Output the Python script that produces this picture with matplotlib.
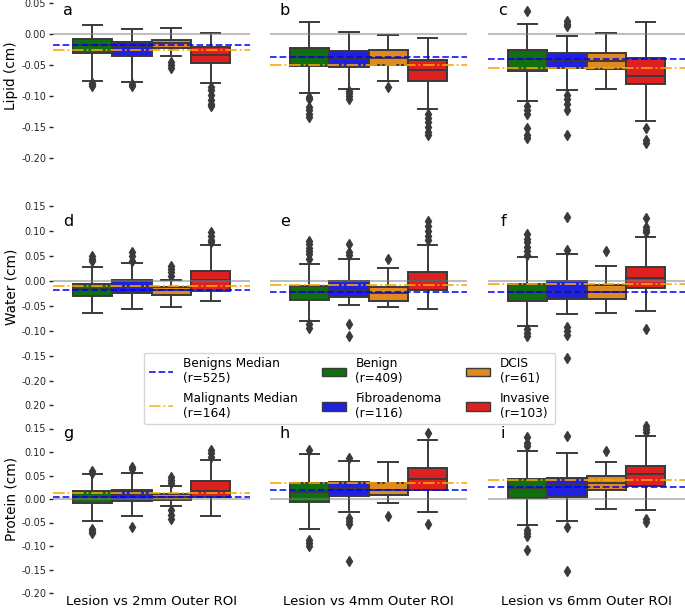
import matplotlib
matplotlib.use("Agg")
import matplotlib.pyplot as plt
import matplotlib.colors as mcolors
import matplotlib.ticker as mticker
from matplotlib.patches import Patch
from matplotlib.lines import Line2D
import colorsys

# ---------------- data ----------------
groups = ["Benign", "Fibroadenoma", "DCIS", "Invasive"]
group_counts = [409, 116, 61, 103]
benign_count = 525
malignant_count = 164
roi_labels = ["Lesion vs 2mm Outer ROI", "Lesion vs 4mm Outer ROI", "Lesion vs 6mm Outer ROI"]
measure_labels = ["Lipid (cm)", "Water (cm)", "Protein (cm)"]
panel_letters = [["a", "b", "c"], ["d", "e", "f"], ["g", "h", "i"]]

# box stats per group: [whislo, q1, med, q3, whishi]
lipid_2mm = [[-0.076, -0.030, -0.017, -0.008, 0.0145],
             [-0.077, -0.035, -0.021, -0.013, 0.0075],
             [-0.035, -0.023, -0.015, -0.009, 0.010],
             [-0.078, -0.046, -0.034, -0.020, 0.001]]
lipid_2mm_fliers = [[-0.078, -0.080, -0.083],
                    [-0.080, -0.083],
                    [-0.045, -0.050, -0.054],
                    [-0.086, -0.090, -0.098, -0.106, -0.112, -0.116]]
lipid_4mm = [[-0.095, -0.051, -0.037, -0.022, 0.019],
             [-0.088, -0.053, -0.039, -0.028, 0.004],
             [-0.075, -0.049, -0.038, -0.026, -0.001],
             [-0.120, -0.075, -0.058, -0.041, -0.0065]]
lipid_4mm_fliers = [[-0.101, -0.105, -0.118, -0.123, -0.128, -0.133],
                    [-0.091, -0.095, -0.100, -0.104],
                    [-0.085],
                    [-0.128, -0.135, -0.142, -0.150, -0.158, -0.163]]
lipid_6mm = [[-0.1075, -0.059, -0.040, -0.025, 0.017],
             [-0.090, -0.055, -0.042, -0.030, -0.003],
             [-0.088, -0.057, -0.0435, -0.030, 0.0016],
             [-0.140, -0.081, -0.068, -0.039, 0.019]]
lipid_6mm_fliers = [[0.037, -0.116, -0.123, -0.129, -0.152, -0.163, -0.168],
                    [0.0215, 0.017, 0.013, -0.098, -0.105, -0.112, -0.123, -0.162],
                    [],
                    [-0.151, -0.171, -0.175]]

water_2mm = [[-0.064, -0.029, -0.015, -0.005, 0.028],
             [-0.055, -0.023, -0.012, 0.003, 0.036],
             [-0.051, -0.027, -0.017, -0.011, 0.0013],
             [-0.040, -0.019, 0.003, 0.020, 0.073]]
water_2mm_fliers = [[0.051, 0.045, 0.040],
                    [0.059, 0.050, 0.041],
                    [0.031, 0.025, 0.018, 0.011],
                    [0.098, 0.090, 0.083, 0.078]]
water_4mm = [[-0.079, -0.037, -0.022, -0.010, 0.035],
             [-0.047, -0.031, -0.019, 0.000, 0.045],
             [-0.052, -0.039, -0.024, -0.012, 0.026],
             [-0.055, -0.017, 0.001, 0.019, 0.073]]
water_4mm_fliers = [[0.081, 0.075, 0.066, 0.060, 0.055, 0.045, -0.085, -0.093],
                    [0.075, 0.058, 0.053, -0.085, -0.110],
                    [0.045],
                    [0.121, 0.110, 0.100, 0.090, 0.082]]
water_6mm = [[-0.090, -0.040, -0.022, -0.005, 0.048],
             [-0.065, -0.036, -0.021, 0.001, 0.055],
             [-0.064, -0.035, -0.021, -0.007, 0.031],
             [-0.059, -0.013, 0.006, 0.028, 0.089]]
water_6mm_fliers = [[0.095, 0.085, 0.078, 0.068, 0.060, 0.053, -0.095, -0.103, -0.110],
                    [0.129, 0.063, -0.092, -0.100, -0.108, -0.154],
                    [0.061],
                    [0.126, 0.109, 0.103, 0.098, -0.095]]

protein_2mm = [[-0.046, -0.009, 0.005, 0.017, 0.053],
               [-0.037, -0.004, 0.008, 0.020, 0.055],
               [-0.015, -0.002, 0.0035, 0.010, 0.027],
               [-0.037, 0.005, 0.018, 0.039, 0.084]]
protein_2mm_fliers = [[0.060, 0.056, -0.064, -0.069, -0.072],
                      [0.068, 0.064, -0.060],
                      [0.046, 0.041, 0.035, -0.023, -0.033, -0.043],
                      [0.105, 0.097, 0.090]]
protein_4mm = [[-0.064, -0.0056, 0.0155, 0.033, 0.095],
               [-0.028, 0.007, 0.0225, 0.0366, 0.081],
               [-0.0077, 0.0085, 0.020, 0.0345, 0.079],
               [-0.028, 0.020, 0.0415, 0.065, 0.125]]
protein_4mm_fliers = [[0.105, -0.087, -0.093, -0.100],
                      [0.088, -0.041, -0.047, -0.053, -0.131],
                      [-0.037],
                      [0.141, -0.054]]
protein_6mm = [[-0.056, 0.0028, 0.0225, 0.042, 0.102],
               [-0.046, 0.0035, 0.0296, 0.044, 0.0986],
               [-0.021, 0.020, 0.033, 0.0486, 0.078],
               [-0.023, 0.0275, 0.054, 0.070, 0.134]]
protein_6mm_fliers = [[0.132, 0.120, 0.112, -0.065, -0.072, -0.078, -0.108],
                      [0.135, -0.060, -0.153],
                      [0.102],
                      [0.156, 0.150, 0.142, -0.043, -0.048]]

# group medians (rows: lipid, water, protein; cols: 2mm, 4mm, 6mm)
benigns_median = [[-0.018, -0.0376, -0.040],
                  [-0.017, -0.022, -0.022],
                  [0.004, 0.019, 0.0246]]
malignants_median = [[-0.025, -0.049, -0.055],
                     [-0.009, -0.0087, -0.0053],
                     [0.013, 0.035, 0.040]]

row_ylims = [(-0.219, 0.084), (-0.200, 0.176), (-0.200, 0.200)]

box_stats = [[lipid_2mm, lipid_4mm, lipid_6mm],
             [water_2mm, water_4mm, water_6mm],
             [protein_2mm, protein_4mm, protein_6mm]]
box_fliers = [[lipid_2mm_fliers, lipid_4mm_fliers, lipid_6mm_fliers],
              [water_2mm_fliers, water_4mm_fliers, water_6mm_fliers],
              [protein_2mm_fliers, protein_4mm_fliers, protein_6mm_fliers]]

# ---------------- style ----------------
base_colors = ["green", "blue", "darkorange", "red"]


def desaturate(c, prop=0.75):
    r, g, b = mcolors.to_rgb(c)
    h, l, s = colorsys.rgb_to_hls(r, g, b)
    return colorsys.hls_to_rgb(h, l, s * prop)


box_colors = [desaturate(c) for c in base_colors]
edge_gray = "#3a3a3a"
text_col = "#262626"

plt.rcParams["font.family"] = ["DejaVu Sans"]

W, H = 685, 610
fig = plt.figure(figsize=(W / 100, H / 100), dpi=100)

col_left = [53, 270, 488]
row_top = [-18, 193, 405]
ax_w, ax_h = 197, 188
positions = [-0.3, -0.1, 0.1, 0.3]

for r in range(3):
    for c in range(3):
        ax = fig.add_axes([col_left[c] / W, 1 - (row_top[r] + ax_h) / H, ax_w / W, ax_h / H])
        stats = []
        for g in range(4):
            wl, q1, md, q3, wh = box_stats[r][c][g]
            stats.append(dict(whislo=wl, q1=q1, med=md, q3=q3, whishi=wh,
                              fliers=box_fliers[r][c][g]))
        res = ax.bxp(stats, positions=positions, widths=0.2, patch_artist=True,
                     showfliers=True, capwidths=0.1,
                     boxprops=dict(edgecolor=edge_gray, linewidth=1.4),
                     whiskerprops=dict(color=edge_gray, linewidth=1.4),
                     capprops=dict(color=edge_gray, linewidth=1.4),
                     medianprops=dict(color=edge_gray, linewidth=1.4),
                     flierprops=dict(marker="d", markerfacecolor=edge_gray,
                                     markeredgecolor=edge_gray, markersize=5,
                                     linestyle="none"))
        for patch, col in zip(res["boxes"], box_colors):
            patch.set_facecolor(col)
        ax.axhline(0, color="gray", alpha=0.5, lw=1.5, zorder=3)
        ax.axhline(benigns_median[r][c], color="blue", ls="--", lw=1.3, alpha=0.85, zorder=4)
        ax.axhline(malignants_median[r][c], color="orange", ls="-.", lw=1.3, alpha=0.9, zorder=4)
        ax.set_xlim(-0.5, 0.5)
        ax.set_ylim(*row_ylims[r])
        for sp in ax.spines.values():
            sp.set_visible(False)
        ax.set_xticks([])
        ax.text(0.076, 0.846, panel_letters[r][c], transform=ax.transAxes,
                ha="center", va="center", fontsize=11.5, color="black")
        if c == 0:
            ax.tick_params(axis="y", length=3, width=1, colors=text_col, labelsize=7, pad=2)
            ax.yaxis.set_major_formatter(mticker.FormatStrFormatter("%.2f"))
            ax.set_ylabel(measure_labels[r], fontsize=9.8, color="black", labelpad=2)
        else:
            ax.set_yticks([])
        if r == 2:
            ax.set_xlabel(roi_labels[c], fontsize=9.6, color="black", labelpad=1.5)

handles = [Line2D([0], [0], color="blue", ls="--", lw=1.3, alpha=0.85),
           Line2D([0], [0], color="orange", ls="-.", lw=1.3, alpha=0.75)]
labels = [f"Benigns Median\n(r={benign_count})", f"Malignants Median\n(r={malignant_count})"]
for g in range(4):
    handles.append(Patch(facecolor=box_colors[g], edgecolor=edge_gray, linewidth=1.0))
    labels.append(f"{groups[g]}\n(r={group_counts[g]})")

fig.legend(handles, labels, loc="center", bbox_to_anchor=(349.5 / W, 1 - 388.5 / H),
           ncol=3, fontsize=8.7, frameon=True)

fig.savefig("out.png", dpi=100)
